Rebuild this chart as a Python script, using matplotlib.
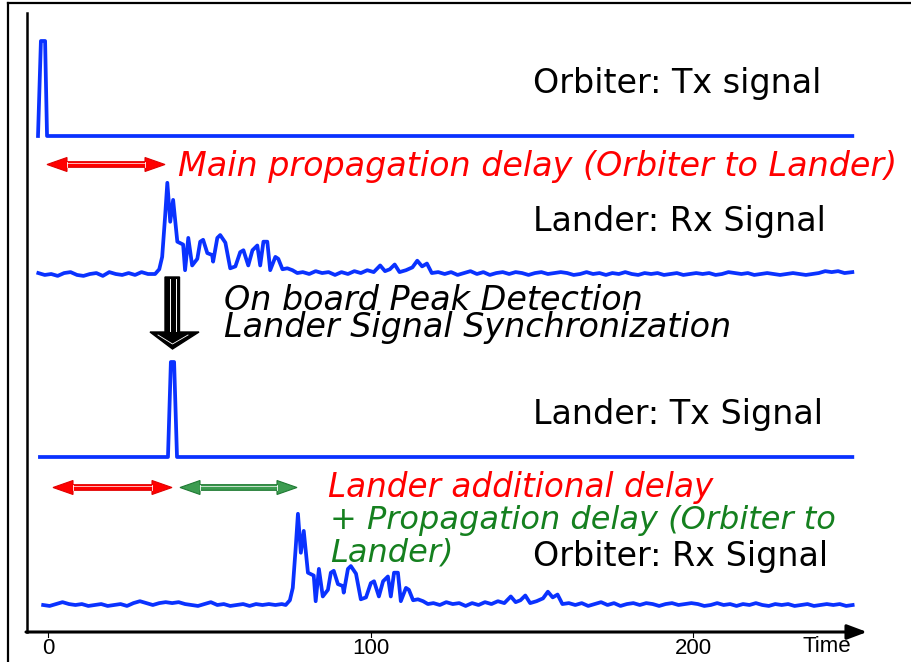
import matplotlib
matplotlib.use('Agg')
import matplotlib.pyplot as plt
import matplotlib.patches as mpatches
import matplotlib.transforms as mtransforms
import numpy as np

# ---- signal data (time units, amplitude normalised to the Tx pulse) ----
orbiter_tx_t = [-3.1, -2.2, -0.9, -0.3, 249.4]
orbiter_tx_a = [0.0, 1.0, 1.0, 0.0, 0.0]

lander_tx_t = [-2.5, 37.2, 38.1, 39.1, 40.0, 249.4]
lander_tx_a = [0.0, 0.0, 1.0, 1.0, 0.0, 0.0]

# lander receive signal: noise, multipath echo, tail
lander_rx_t = [-3, -1, 1, 3, 5, 7, 9, 11, 13, 15, 17, 19, 21, 23, 25, 27, 29, 31,
               33.2, 34.5, 35.4, 36.3, 37.0, 37.9, 38.8, 40.1, 41.9, 42.5, 43.5, 44.7,
               46.3, 47.2, 48.1, 49.4, 50.9, 51.2, 52.5, 53.4, 55.0, 56.5, 58.1, 59.6,
               60.6, 62.1, 63.4, 64.9, 65.8, 66.8, 68.0, 68.9, 70.5, 71.4, 72.7, 74.2,
               75.8, 77.3,
               79, 81, 83, 85, 87, 89, 91, 93, 95, 97, 99, 101, 103, 104.5, 106, 107.5,
               109, 111, 113, 114.5, 116, 117.5, 119, 121, 123, 125, 127, 129, 131, 133,
               135, 137, 139, 141, 143, 145, 147, 149, 151, 153, 155, 157, 159, 161, 163,
               165, 167, 169, 171, 173, 175, 177, 179, 181, 183, 185, 187, 189, 191, 193,
               195, 197, 199, 201, 203, 205, 207, 209, 211, 213, 215, 217, 219, 221, 223,
               225, 227, 229, 231, 233, 235, 237, 239, 241, 243, 245, 247, 249.4]
lander_rx_a = [0.01, -0.01, 0.0, -0.02, 0.01, 0.02, -0.01, -0.02, 0.0, 0.01, -0.02, 0.02,
               0.0, -0.01, 0.01, -0.01, 0.02, 0.0,
               0.0, 0.05, 0.18, 0.60, 0.96, 0.55, 0.78, 0.34, 0.31, 0.04, 0.38, 0.09,
               0.16, 0.34, 0.36, 0.22, 0.20, 0.13, 0.38, 0.41, 0.33, 0.06, 0.08, 0.23,
               0.25, 0.09, 0.25, 0.30, 0.09, 0.34, 0.34, 0.04, 0.18, 0.16, 0.05, 0.06,
               0.04, 0.01,
               0.02, 0.0, 0.03, 0.01, 0.02, -0.01, 0.02, 0.0, 0.03, 0.01, 0.04, 0.02,
               0.09, 0.03, 0.05, 0.10, 0.02, 0.04, 0.07, 0.14, 0.08, 0.11, 0.01, 0.02,
               0.0, 0.02, -0.01, 0.01, 0.03, 0.0, 0.02, -0.01, 0.01, 0.02, 0.0, 0.02,
               0.01, -0.01, 0.01, 0.02, 0.0, 0.01, 0.02, 0.01, -0.01, 0.0, 0.02, 0.0,
               0.01, -0.01, 0.01, 0.0, 0.02, 0.0, -0.01, 0.01, 0.0, 0.01, -0.01, 0.0,
               0.01, -0.01, 0.0, 0.01, 0.0, 0.01, -0.01, 0.0, 0.02, 0.01, 0.0, 0.01,
               -0.01, 0.0, 0.01, 0.0, -0.01, 0.0, 0.01, 0.0, -0.01, 0.0, 0.01, 0.03,
               0.02, 0.03, 0.01, 0.02]

# orbiter receive: its own noise before the echo, then the lander echo delayed
orbiter_rx_pre_t = [-1.5, 0.5, 2.5, 4.5, 6.5, 8.5, 10.5, 12.5, 14.5, 16.5, 18.5, 20.5,
                    22.5, 24.5, 26.5, 28.5, 30.5, 32.5, 34.5, 36.5, 38.5, 40.5, 42.5,
                    44.5, 46.5, 48.5, 50.5, 52.5, 54.5, 56.5, 58.5, 60.5, 62.5, 64.5,
                    66.5, 68.5, 70.5, 72.5]
orbiter_rx_pre_a = [0.0, -0.01, 0.01, 0.03, 0.01, 0.0, 0.01, -0.01, 0.0, 0.01, -0.01,
                    0.0, 0.01, -0.01, 0.02, 0.04, 0.02, 0.0, 0.02, 0.03, 0.02, 0.03,
                    0.01, 0.0, -0.01, 0.01, 0.03, 0.0, 0.01, -0.01, 0.0, 0.01, -0.01,
                    0.01, 0.0, 0.01, 0.0, 0.01]
echo_start = 33.2
rx_delay = 40.5
t_end = 249.6

tick_vals = [0, 100, 200]

# ---- layout helpers ----
W, H = 911, 662
px_per_t = 3.225
x0_px = 48
amp_px = 95
base_otx, base_lrx, base_ltx, base_orx = 136, 274, 457, 605

blue = '#0a32ff'

fig = plt.figure(figsize=(W / 100, H / 100), dpi=100)
ax = fig.add_axes([0, 0, 1, 1])
ax.set_xlim(-x0_px / px_per_t, (W - x0_px) / px_per_t)
ax.set_ylim(H, 0)
ax.axis('off')

# pixel coordinates (from top-left) for annotations
pix = mtransforms.Affine2D().scale(1 / W, -1 / H).translate(0, 1) + fig.transFigure


def trace(t, a, base):
    y = base - amp_px * np.asarray(a, dtype=float)
    ax.plot(t, y, color=blue, lw=2.7, solid_joinstyle='round', zorder=3)


trace(orbiter_tx_t, orbiter_tx_a, base_otx)
trace(lander_rx_t, lander_rx_a, base_lrx)
trace(lander_tx_t, lander_tx_a, base_ltx)

lrx_t = np.array(lander_rx_t, dtype=float)
lrx_a = np.array(lander_rx_a, dtype=float)
sel = lrx_t >= echo_start
orx_t = np.concatenate([orbiter_rx_pre_t, lrx_t[sel] + rx_delay])
orx_a = np.concatenate([orbiter_rx_pre_a, lrx_a[sel]])
keep = orx_t <= t_end
trace(orx_t[keep], orx_a[keep], base_orx)

# ---- frame and axes ----
ax.plot([8, 8], [3, H], color='black', lw=1.6, transform=pix, clip_on=False)
ax.plot([8, W], [3, 3], color='black', lw=1.6, transform=pix, clip_on=False)
ax.plot([27, 27], [13, 632], color='black', lw=1.8, transform=pix)
ax.annotate('', xy=(867, 632), xytext=(26, 632), xycoords=pix, textcoords=pix,
            arrowprops=dict(arrowstyle='-|>,head_length=1.2,head_width=0.45',
                            lw=2.2, color='black', shrinkA=0, shrinkB=0))
for v in tick_vals:
    ax.plot([v, v], [633, 637], color='black', lw=0.8)
    ax.text(v, 649, str(v), ha='center', va='center', fontsize=16,
            family='Liberation Sans')
ax.text(851, 647, 'Time', ha='right', va='center', fontsize=16,
        family='Liberation Sans', transform=pix)


# ---- double arrows ----
def dbl_arrow(xa, xb, y, face, edge, hl=20, hh=7, sh=2.8):
    pts = [(xa, y), (xa + hl, y - hh), (xa + hl, y - sh), (xb - hl, y - sh),
           (xb - hl, y - hh), (xb, y), (xb - hl, y + hh), (xb - hl, y + sh),
           (xa + hl, y + sh), (xa + hl, y + hh)]
    ax.add_patch(mpatches.Polygon(pts, closed=True, facecolor=face, edgecolor=edge,
                                  lw=0.8, transform=pix, zorder=4))
    ax.plot([xa + hl, xb - hl], [y - sh + 1.2, y - sh + 1.2], color='white',
            lw=0.5, transform=pix, zorder=5)
    for xx in (xa + hl, xb - hl):
        ax.plot([xx, xx], [y - sh, y + sh], color='white', lw=0.6,
                transform=pix, zorder=5)


dbl_arrow(47, 165, 164.5, '#ff0000', '#e00000')
dbl_arrow(53, 172, 487.5, '#ff0000', '#e00000')
dbl_arrow(180, 297, 487.5, '#3c9c50', '#1f7a33')

# ---- black processing arrow ----
down = [(165, 277), (179.5, 277), (179.5, 332), (199, 332), (172.5, 349),
        (150, 332), (165, 332)]
ax.add_patch(mpatches.Polygon(down, closed=True, facecolor='black', edgecolor='black',
                              lw=1, transform=pix, zorder=4))
for xx in (169.5, 175.5):
    ax.plot([xx, xx], [279, 331], color='white', lw=0.7, transform=pix, zorder=5)
ax.plot([158, 172.5, 188], [335, 344, 335], color='white', lw=0.6, transform=pix,
        zorder=5)

# ---- labels (multi-line texts are anchored on their last baseline) ----
lab = dict(family='DejaVu Sans', va='baseline', ha='left', transform=pix)
ax.text(533, 93, 'Orbiter: Tx signal', color='black', fontsize=24, **lab)
ax.text(178, 176, 'Main propagation delay (Orbiter to Lander)', color='#ff0000',
        style='italic', fontsize=24, **lab)
ax.text(533, 231, 'Lander: Rx Signal', color='black', fontsize=24, **lab)
ax.text(224, 337, 'On board Peak Detection\nLander Signal Synchronization',
        color='black', style='italic', fontsize=24, linespacing=0.78, **lab)
ax.text(533, 424, 'Lander: Tx Signal', color='black', fontsize=24, **lab)
ax.text(328, 496.5, 'Lander additional delay', color='#ff0000', style='italic',
        fontsize=23.5, **lab)
ax.text(330, 529, '+ Propagation delay (Orbiter to', color='#15801f',
        style='italic', fontsize=23, **lab)
ax.text(330, 561, 'Lander)', color='#15801f', style='italic', fontsize=23, **lab)
ax.text(533, 566, 'Orbiter: Rx Signal', color='black', fontsize=24, **lab)

fig.savefig('out.png', dpi=100)
